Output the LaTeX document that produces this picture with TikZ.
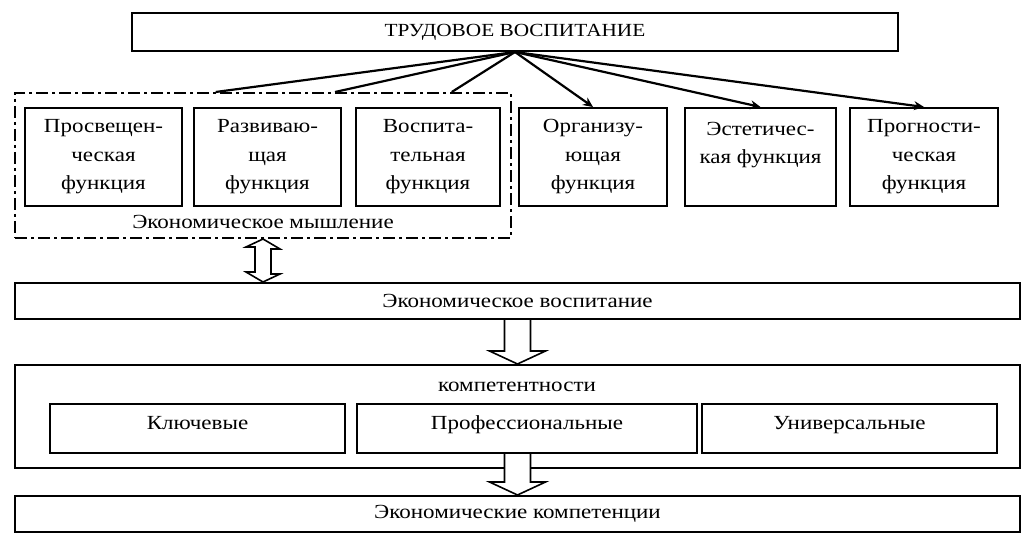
\documentclass[tikz,border=0pt]{standalone}
\usepackage{fontspec}
\setmainfont[FakeStretch=1.15]{Liberation Serif}
\usetikzlibrary{arrows.meta, calc}
\tikzset{
  box/.style={draw, line width=2pt, align=center, inner sep=2pt,
              font=\fontsize{20}{28.5}\selectfont},
  dbox/.style={draw, line width=2pt, dash pattern=on 12pt off 4pt on 3pt off 4pt},
  lbl/.style={inner sep=0pt, font=\fontsize{20}{24}\selectfont},
  ln/.style={line width=2.2pt},
  fl/.style={-{Stealth[length=10pt, width=9pt]}, line width=2.2pt},
  hol/.style={draw, fill=white, line width=1.6pt, line join=miter},
}

\begin{document}
\begin{tikzpicture}[x=1pt, y=-1pt]
  \useasboundingbox (0,0) rectangle (1034,540);
  \node[box, minimum width=766pt, minimum height=38pt, font=\fontsize{18.5}{22}\selectfont] (title) at (515,32) {ТРУДОВОЕ ВОСПИТАНИЕ};
  % economic thinking frame
  \node[dbox, minimum width=496pt, minimum height=145pt] (think) at (263,165.5) {};
  \node[box, minimum width=157pt, minimum height=98pt] (f1) at (103.5,157) {Просвещен-\\ческая\\функция};
  \node[box, minimum width=147pt, minimum height=98pt] (f2) at (267.5,157) {Развиваю-\\щая\\функция};
  \node[box, minimum width=144pt, minimum height=98pt] (f3) at (428,157) {Воспита-\\тельная\\функция};
  \node[box, minimum width=148pt, minimum height=98pt] (f4) at (593,157) {Организу-\\ющая\\функция};
  \node[box, minimum width=151pt, minimum height=98pt] (f5) at (760.5,157) {Эстетичес-\\кая функция\\\mbox{}};
  \node[box, minimum width=148pt, minimum height=98pt] (f6) at (924,157) {Прогности-\\ческая\\функция};
  \node[lbl] (thinkl) at (263,222) {Экономическое мышление};

  \node[box, minimum width=1005pt, minimum height=36pt] (vosp) at (517.5,301) {Экономическое воспитание};
  % competences
  \node[box, minimum width=1005pt, minimum height=103pt] (komp) at (517.5,416.5) {};
  \node[lbl] (kompl) at (517,387) {компетентности};
  \node[box, minimum width=295pt, minimum height=49pt, text depth=12pt] (k1) at (197.5,428.5) {Ключевые};
  \node[box, minimum width=340pt, minimum height=49pt, text depth=12pt] (k2) at (527,428.5) {Профессиональные};
  \node[box, minimum width=295pt, minimum height=49pt, text depth=12pt] (k3) at (849.5,428.5) {Универсальные};
  \node[box, minimum width=1005pt, minimum height=36pt] (res) at (517.5,514) {Экономические компетенции};

  \foreach \b in {f1,f2,f3}
    \draw[ln] (title.south) -- (intersection of title.south--\b.north and think.north west--think.north east);
  \foreach \b in {f4,f5,f6}
    \draw[fl] (title.south) -- (\b.north);

  \draw[hol] (think.south) -- ++(17,10) -- ++(-9,0) -- ++(0,25) -- ++(9,0) -- (think.south |- vosp.north)
    -- ++(-17,-10) -- ++(9,0) -- ++(0,-25) -- ++(-9,0) -- cycle;
  \draw[hol] ($(vosp.south)+(-13,0)$) |- ($(komp.north)+(-28,-13)$) -- (komp.north)
    -- ($(komp.north)+(28,-13)$) -| ($(vosp.south)+(13,0)$);
  \draw[hol] ($(k2.south -| res.north)+(-13,0)$) |- ($(res.north)+(-28,-13)$) -- (res.north)
    -- ($(res.north)+(28,-13)$) -| ($(k2.south -| res.north)+(13,0)$);
\end{tikzpicture}
\end{document}
